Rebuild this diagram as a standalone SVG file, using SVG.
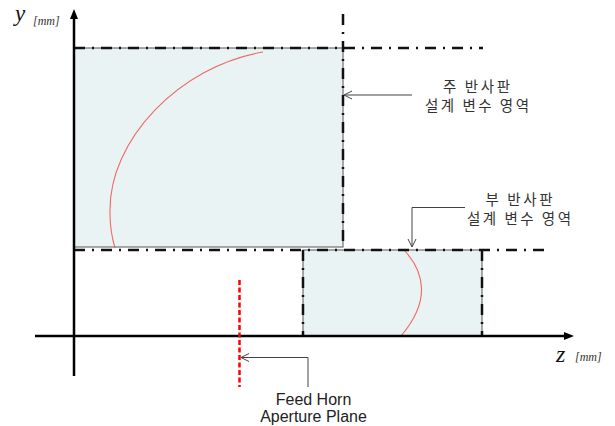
<svg xmlns="http://www.w3.org/2000/svg" width="615" height="426" viewBox="0 0 615 426">
<style>
.region{fill:#EAF3F4;stroke:#555;stroke-width:1}
.dd{fill:none;stroke:#111;stroke-width:2.5;stroke-dasharray:11 7 2 7}
.axis{fill:none;stroke:#000;stroke-width:2.5}
.refl{fill:none;stroke:#F06868;stroke-width:1.1}
.lead{fill:none;stroke:#444;stroke-width:1}
.ko{font-family:"Noto Sans CJK KR","Noto Sans",sans-serif;font-size:14.5px;fill:#333;text-anchor:middle}
.en{font-family:"Liberation Sans",Arial,sans-serif;font-size:16px;fill:#222;text-anchor:middle}
.var{font-family:"Liberation Serif","Times New Roman",serif;font-style:italic;fill:#111}
.unit{font-family:"Liberation Serif","Times New Roman",serif;font-style:italic;font-size:12px;fill:#333}
</style>
<defs>
<marker id="open" viewBox="-10 -6 12 12" refX="0" refY="0" markerWidth="12" markerHeight="12" markerUnits="userSpaceOnUse" orient="auto">
<path d="M-8,-4 L0,0 L-8,4" fill="none" stroke="#444" stroke-width="1"/>
</marker>
</defs>

<g id="main-region">
<rect class="region" x="74" y="48" width="269" height="199"/>
<path class="refl" d="M263,52 C180,66 108,140 110,213 C110,228 112,238 115,248"/>
</g>

<g id="sub-region">
<rect class="region" x="303" y="250" width="179" height="86"/>
<path class="refl" d="M405,251 Q440,290 401,336"/>
</g>

<g id="bounds">
<line class="dd" x1="74" y1="48" x2="483" y2="48"/>
<line class="dd" x1="343" y1="14" x2="343" y2="247"/>
<line class="dd" x1="74" y1="250" x2="546" y2="250"/>
<line class="dd" x1="303" y1="250" x2="303" y2="336"/>
<line class="dd" x1="482" y1="250" x2="482" y2="336"/>
</g>

<g id="axes">
<line class="axis" x1="74" y1="17" x2="74" y2="376"/>
<polygon points="74,9 70,19 78,19" fill="#000"/>
<line class="axis" x1="35" y1="336" x2="566" y2="336"/>
<polygon points="574,336 564,332 564,340" fill="#000"/>
<text class="var" x="15" y="21" font-size="23">y</text>
<text class="unit" x="33" y="25">[mm]</text>
<text class="var" x="556" y="362" font-size="24">z</text>
<text class="unit" x="575" y="361">[mm]</text>
</g>

<g id="feed-plane">
<line x1="239.5" y1="280" x2="239.5" y2="387" stroke="#FF0000" stroke-width="2.5" stroke-dasharray="5 2.5"/>
</g>

<g id="connectors">
<polyline class="lead" points="412,95 344,95" marker-end="url(#open)"/>
<polyline class="lead" points="465,207.5 412,207.5 412,247" marker-end="url(#open)"/>
<polyline class="lead" points="308,387 308,357.5 241,357.5" marker-end="url(#open)"/>
</g>

<g id="label-main">
<text class="ko" x="476.5" y="92" textLength="67" lengthAdjust="spacing">주 반사판</text>
<text class="ko" x="477" y="111" textLength="104" lengthAdjust="spacing">설계 변수 영역</text>
</g>
<g id="label-sub">
<text class="ko" x="519" y="205" textLength="67" lengthAdjust="spacing">부 반사판</text>
<text class="ko" x="519" y="224" textLength="104" lengthAdjust="spacing">설계 변수 영역</text>
</g>
<g id="label-feed">
<text class="en" x="313.5" y="405">Feed Horn</text>
<text class="en" x="313.5" y="422">Aperture Plane</text>
</g>
</svg>
